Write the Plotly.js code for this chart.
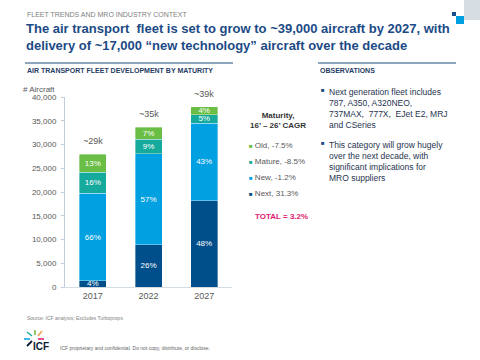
<!DOCTYPE html>
<html>
<head>
<meta charset="utf-8">
<script src="https://cdn.plot.ly/plotly-3.0.1.min.js"></script>
<style>html,body{margin:0;padding:0;background:#fff;}#chart{width:480px;height:360px;}</style>
</head>
<body>
<div id="chart"></div>
<script>
// ---- data ----
const years = ['2017', '2022', '2027'];
const nextVals   = [1300, 8900, 18200];
const newVals    = [18400, 19200, 16300];
const matureVals = [4500, 3000, 1800];
const oldVals    = [3700, 2500, 1700];
const nextPct   = ['4%', '26%', '48%'];
const newPct    = ['66%', '57%', '43%'];
const maturePct = ['16%', '9%', '5%'];
const oldPct    = ['13%', '7%', '4%'];
const totalLabels = ['~29k', '~35k', '~39k'];
const seriesNames = ['Old', 'Mature', 'New', 'Next'];
const seriesCagr  = ['-7.5%', '-8.5%', '-1.2%', '31.3%'];
const totalCagr = '3.2%';
const bullets = [
  'Next generation fleet includes<br>787, A350, A320NEO,<br>737MAX,  777X,  EJet E2, MRJ<br>and CSeries',
  'This category will grow hugely<br>over the next decade, with<br>significant implications for<br>MRO suppliers'
];

// ---- style ----
const FONT = 'Liberation Sans, Arial, sans-serif';
const colors = {Old: '#6abd45', Mature: '#16aa9c', New: '#00a0e1', Next: '#004f8b'};
const navy = '#1b4a86';
const gray = '#595959';

// plot area in pixels
const L = 65, R = 232, T = 97, B = 287;
const px = x => (x - L) / (R - L);
const py = y => (B - y) / (B - T);

function barTrace(nm, vals, pct) {
  return {
    type: 'bar', x: years, y: vals, name: nm, text: pct,
    textposition: 'inside', insidetextanchor: 'middle', textangle: 0, constraintext: 'none',
    textfont: {family: FONT, size: 8, color: '#ffffff'},
    marker: {color: colors[nm], line: {color: 'rgba(255,255,255,0.6)', width: 0.6}},
    showlegend: false, hoverinfo: 'skip'
  };
}
const traces = [
  barTrace('Next', nextVals, nextPct),
  barTrace('New', newVals, newPct),
  barTrace('Mature', matureVals, maturePct),
  barTrace('Old', oldVals, oldPct)
];

const totals = years.map((y, i) => nextVals[i] + newVals[i] + matureVals[i] + oldVals[i]);

const annotations = [];
years.forEach((y, i) => {
  annotations.push({x: i, y: totals[i], xref: 'x', yref: 'y', text: totalLabels[i],
    showarrow: false, xanchor: 'center', yanchor: 'bottom', yshift: 6,
    font: {family: FONT, size: 9, color: gray}});
});
function ann(x, y, text, opts) {
  return Object.assign({xref: 'paper', yref: 'paper', x: px(x), y: py(y), text: text,
    showarrow: false, xanchor: 'left', yanchor: 'middle', align: 'left',
    font: {family: FONT, size: 8, color: gray}}, opts || {});
}
annotations.push(ann(25, 14, 'FLEET TRENDS AND MRO INDUSTRY CONTEXT', {font: {family: FONT, size: 7, color: '#7f7f7f'}}));
annotations.push(ann(24, 37, '<b>The air transport  fleet is set to grow to ~39,000 aircraft by 2027, with<br>delivery of ~17,000 \u201cnew technology\u201d aircraft over the decade</b>',
  {font: {family: FONT, size: 13, color: navy}}));
annotations.push(ann(25, 70, '<b>AIR TRANSPORT FLEET DEVELOPMENT BY MATURITY</b>', {font: {family: FONT, size: 7, color: '#1f3c66'}}));
annotations.push(ann(318, 70, '<b>OBSERVATIONS</b>', {font: {family: FONT, size: 7, color: '#1f3c66'}}));
annotations.push(ann(39, 89, '# Aircraft', {xanchor: 'center', font: {family: FONT, size: 8, color: gray}}));
annotations.push(ann(278, 121, '<b>Maturity,<br>16\u2019 \u2013 26\u2019 CAGR</b>', {xanchor: 'center', align: 'center', font: {family: FONT, size: 8, color: '#333333'}}));
seriesNames.forEach((n, i) => {
  annotations.push(ann(247, 145 + 16 * i, '<span style="color:' + colors[n] + ';font-size:6px">\u25a0</span> ' + n + ', ' + seriesCagr[i],
    {font: {family: FONT, size: 8, color: gray}}));
});
annotations.push(ann(253, 216, '<b>TOTAL = ' + totalCagr + '</b>', {font: {family: FONT, size: 8, color: '#e0186f'}}));
bullets.forEach((b, i) => {
  const y0 = [85, 138][i];
  annotations.push(ann(319, y0, '<span style="color:' + navy + ';font-size:6px">\u25a0</span>', {yanchor: 'top', font: {family: FONT, size: 8.5, color: navy}}));
  annotations.push(ann(327, y0, b, {yanchor: 'top', font: {family: FONT, size: 8.5, color: '#1f3450'}}));
});
annotations.push(ann(25, 318, 'Source: ICF analysis; Excludes Turboprops', {font: {family: FONT, size: 5, color: '#7f7f7f'}}));
annotations.push(ann(31, 346, '<b>ICF</b>', {font: {family: FONT, size: 10, color: '#0a1a35'}}));
annotations.push(ann(58, 348, 'ICF proprietary and confidential. Do not copy, distribute, or disclose.', {font: {family: FONT, size: 5, color: '#666666'}}));

function seg(x0, y0, x1, y1, color, w) {
  return {type: 'line', xref: 'paper', yref: 'paper', x0: px(x0), y0: py(y0), x1: px(x1), y1: py(y1), line: {color: color, width: w || 1}};
}
function box(x0, y0, x1, y1, color) {
  return {type: 'rect', xref: 'paper', yref: 'paper', x0: px(x0), y0: py(y0), x1: px(x1), y1: py(y1), fillcolor: color, line: {width: 0}};
}
const shapes = [
  box(464, 0, 480, 20, '#d6dee4'),
  box(452, 12, 456, 16, '#1b4f8a'),
  box(456, 16, 464, 24, '#00a0e1'),
  seg(25, 63, 233, 63, '#1f4e79', 1),
  seg(318, 63, 456, 63, '#1f4e79', 1),
  seg(27, 332, 32, 336, '#16aa9c', 1.5),
  seg(35, 330, 35, 335, '#6abd45', 1.5),
  seg(42, 331, 38, 336, '#f0a04b', 1.5),
  seg(24, 339, 30, 339, '#00a0e1', 1.5),
  seg(38, 339, 44, 339, '#e0186f', 1.5),
  seg(32, 341, 27, 346, '#0a1a35', 1.8)
];

const layout = {
  width: 480, height: 360, autosize: false,
  margin: {l: L, r: 480 - R, t: T, b: 360 - B, pad: 0},
  paper_bgcolor: '#ffffff', plot_bgcolor: '#ffffff',
  barmode: 'stack', bargap: 0.515,
  showlegend: false,
  font: {family: FONT, color: gray},
  xaxis: {type: 'category', range: [-0.5, 2.5], showline: true, linecolor: '#d3dbe3', linewidth: 1, ticks: '',
    showgrid: false, zeroline: false, tickfont: {family: FONT, size: 9, color: gray}},
  yaxis: {range: [0, 40000], dtick: 5000, tickformat: ',', showline: true, linecolor: '#c3cdd8', linewidth: 1,
    ticks: 'outside', ticklen: 3, tickcolor: '#c3cdd8', showgrid: false, zeroline: false, ticklabelstandoff: 3,
    tickfont: {family: FONT, size: 8, color: gray}},
  annotations: annotations,
  shapes: shapes
};

Plotly.newPlot('chart', traces, layout, {displayModeBar: false, staticPlot: true});
</script>
</body>
</html>
